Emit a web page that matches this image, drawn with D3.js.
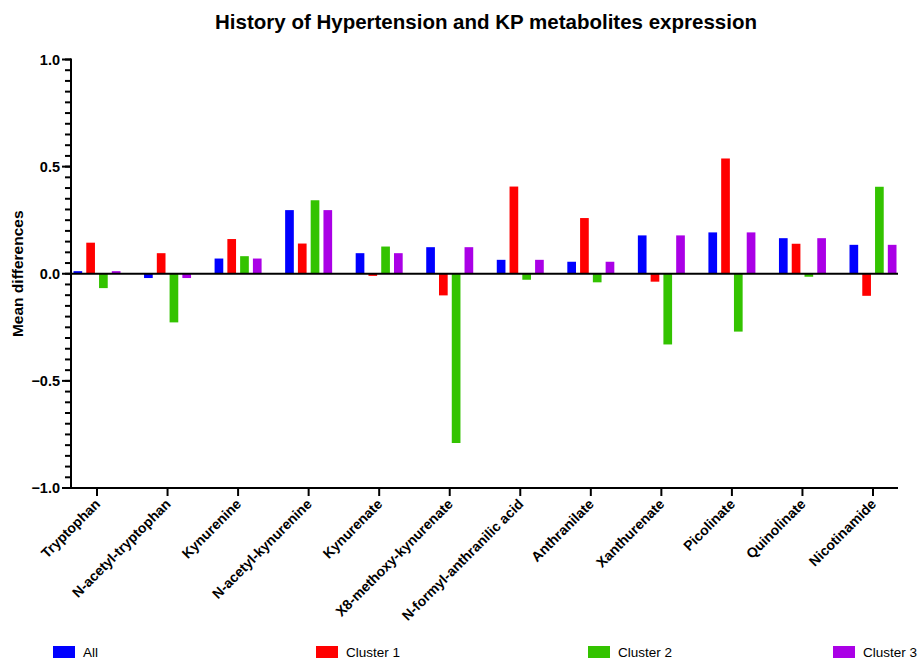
<!DOCTYPE html>
<html>
<head>
<meta charset="utf-8">
<script src="https://cdn.jsdelivr.net/npm/d3@7"></script>
<style>
  body { margin: 0; background: #fff; }
  text { font-family: "Liberation Sans", Arial, sans-serif; }
</style>
</head>
<body>
<svg id="chart" width="919" height="660"></svg>
<script>
let categories = ['Tryptophan', 'N-acetyl-tryptophan', 'Kynurenine', 'N-acetyl-kynurenine', 'Kynurenate',
  'X8-methoxy-kynurenate', 'N-formyl-anthranilic acid', 'Anthranilate', 'Xanthurenate', 'Picolinate',
  'Quinolinate', 'Nicotinamide']
let seriesNames = ['All', 'Cluster 1', 'Cluster 2', 'Cluster 3']
let allValues = [0.012, -0.02, 0.071, 0.297, 0.096, 0.124, 0.065, 0.056, 0.179, 0.193, 0.166, 0.135]
let cluster1Values = [0.145, 0.096, 0.162, 0.141, -0.01, -0.101, 0.407, 0.26, -0.037, 0.538, 0.14, -0.103]
let cluster2Values = [-0.067, -0.227, 0.082, 0.343, 0.127, -0.79, -0.028, -0.04, -0.33, -0.27, -0.014, 0.406]
let cluster3Values = [0.012, -0.02, 0.071, 0.297, 0.096, 0.124, 0.065, 0.056, 0.179, 0.193, 0.166, 0.135]
let yTicks = [-1, -0.5, 0, 0.5, 1]
let colors = ['#0000ff', '#ff0000', '#33c300', '#aa00e6']

let values = [allValues, cluster1Values, cluster2Values, cluster3Values]

let svg = d3.select('#chart')

let x = d3.scalePoint().domain(categories).range([97, 873])
let sub = d3.scaleBand().domain(seriesNames).range([-23.5, 23.5]).paddingInner(0.32)
let y = d3.scaleLinear().domain([-1, 1]).range([488, 59.5])

// title
svg.append('text')
  .attr('x', 486).attr('y', 29)
  .attr('text-anchor', 'middle')
  .style('font-size', '20.5px').style('font-weight', 'bold')
  .text('History of Hypertension and KP metabolites expression')

// bars
seriesNames.forEach((name, s) => {
  svg.append('g').selectAll('rect')
    .data(categories)
    .enter()
    .append('rect')
    .attr('x', (c) => x(c) + sub(name))
    .attr('width', sub.bandwidth())
    .attr('y', (c, i) => y(Math.max(0, values[s][i])))
    .attr('height', (c, i) => Math.abs(y(values[s][i]) - y(0)))
    .attr('fill', colors[s])
})

// y axis: minor ticks every 0.05, major every 0.5
let minor = d3.range(-1, 1.0001, 0.05)
let yAxis = svg.append('g').attr('transform', 'translate(71,0)')
yAxis.append('line').attr('y1', y(1) - 1).attr('y2', y(-1) + 1).attr('stroke', '#000').attr('stroke-width', 2)
yAxis.selectAll('.minor').data(minor).enter().append('line')
  .attr('x1', -6).attr('x2', 0)
  .attr('y1', (d) => y(d)).attr('y2', (d) => y(d))
  .attr('stroke', '#000').attr('stroke-width', 2)
yAxis.selectAll('.major').data(yTicks).enter().append('line')
  .attr('x1', -9).attr('x2', 0)
  .attr('y1', (d) => y(d)).attr('y2', (d) => y(d))
  .attr('stroke', '#000').attr('stroke-width', 2)
yAxis.selectAll('.lbl').data(yTicks).enter().append('text')
  .attr('x', -11).attr('y', (d) => y(d)).attr('dy', '0.35em')
  .attr('text-anchor', 'end')
  .style('font-size', '14.5px').style('font-weight', 'bold')
  .text((d) => d3.format('.1f')(d))

svg.append('text')
  .attr('transform', 'translate(23,' + y(0) + ') rotate(-90)')
  .attr('text-anchor', 'middle')
  .style('font-size', '15.5px').style('font-weight', 'bold')
  .text('Mean differences')

// zero line
svg.append('line')
  .attr('x1', 71).attr('x2', 898)
  .attr('y1', y(0)).attr('y2', y(0))
  .attr('stroke', '#000').attr('stroke-width', 2)

// x axis at bottom
let xAxis = svg.append('g').attr('transform', 'translate(0,' + y(-1) + ')')
xAxis.append('line').attr('x1', 70).attr('x2', 898).attr('stroke', '#000').attr('stroke-width', 2)
xAxis.selectAll('.tick').data(categories).enter().append('line')
  .attr('x1', (c) => x(c)).attr('x2', (c) => x(c))
  .attr('y1', 0).attr('y2', 8)
  .attr('stroke', '#000').attr('stroke-width', 2)
xAxis.selectAll('.lbl').data(categories).enter().append('text')
  .attr('transform', (c) => 'translate(' + (x(c) + 4) + ',17) rotate(-45)')
  .attr('text-anchor', 'end')
  .style('font-size', '14px').style('font-weight', 'bold')
  .text((c) => c)

// legend
let legendX = [53, 316, 588, 833]
seriesNames.forEach((name, s) => {
  svg.append('rect')
    .attr('x', legendX[s]).attr('y', 646)
    .attr('width', 22).attr('height', 12)
    .attr('fill', colors[s])
  svg.append('text')
    .attr('x', legendX[s] + 30).attr('y', 652).attr('dy', '0.35em')
    .style('font-size', '13.5px')
    .text(name)
})
</script>
</body>
</html>
